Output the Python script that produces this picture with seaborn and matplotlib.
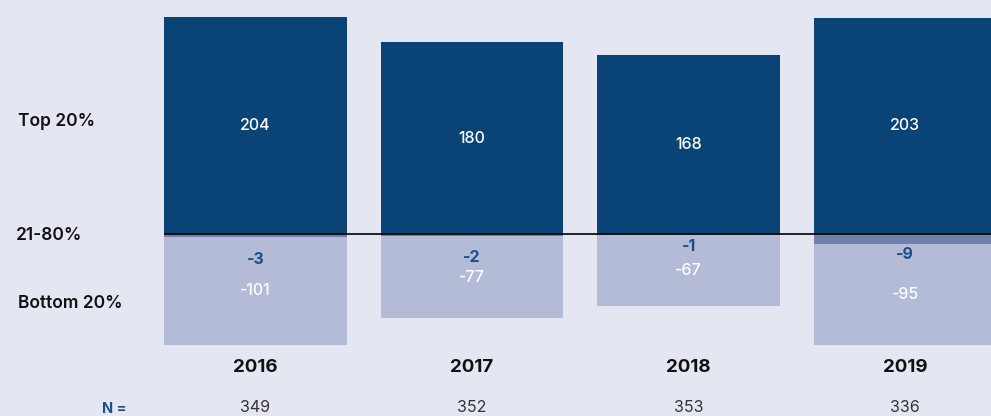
import numpy as np
import pandas as pd
import matplotlib
matplotlib.use("Agg")
import matplotlib.pyplot as plt
import seaborn as sns

# chart values
years = ["2016", "2017", "2018", "2019"]
top20 = [204, 180, 168, 203]
mid_band = [-3, -2, -1, -9]
bottom20 = [-101, -77, -67, -95]
n_counts = [349, 352, 353, 336]
row_labels = ["Top 20%", "21-80%", "Bottom 20%"]

BG = "#e4e7f1"
NAVY = "#0a4476"
MID = "#7080aa"
LIGHT = "#b4bbd6"
LABEL_BLUE = "#1d4f86"

sns.set_theme(style="white")
plt.rcParams["font.family"] = ["Inter", "DejaVu Sans"]

df = pd.DataFrame({
    "year": years,
    "top": top20,
    "mid": mid_band,
    "bottom": bottom20,
})
df["neg_total"] = df["mid"] + df["bottom"]

fig = plt.figure(figsize=(9.91, 4.16), dpi=100, facecolor=BG)
ax = fig.add_axes([0, 0, 1, 1])
ax.set_facecolor(BG)

bar_w = 0.845
for col, c in [("top", NAVY), ("neg_total", LIGHT), ("mid", MID)]:
    sns.barplot(data=df, x="year", y=col, color=c, width=bar_w,
                saturation=1, ax=ax, order=years, linewidth=0,
                edgecolor="none")

# scale: ~1.065 px per unit, zero line 234 px from top
ax.set_xlim(-1.18, 3.397)
ax.set_ylim(-(416 - 234) / 1.065, 234 / 1.065)
ax.set_axis_off()

left_edge = min(p.get_x() for p in ax.patches)
ax.hlines(0, left_edge, ax.get_xlim()[1], color="black", lw=1.2, zorder=5)

# vertical nudges for the small 21-80% labels (data units below the band)
mid_nudge = [-22, -21.5, -11.7, -15]

for i, yr in enumerate(years):
    t, m, b = top20[i], mid_band[i], bottom20[i]
    ax.text(i, t / 2, str(t), color="white", ha="center", va="center",
            fontsize=11.5, fontweight="medium")
    ax.text(i, m + b / 2, str(b), color="white", ha="center", va="center",
            fontsize=11.5, fontweight="medium")
    ax.text(i, m / 2 + mid_nudge[i], str(m), color=LABEL_BLUE, ha="center",
            va="center", fontsize=11.5, fontweight="bold")

trans = ax.get_xaxis_transform()
for i, yr in enumerate(years):
    ax.text(i, 49 / 416, yr, transform=trans, ha="center", va="center",
            fontsize=13.5, fontweight="bold", color="#111111")
    ax.text(i, 8 / 416, str(n_counts[i]), transform=trans, ha="center",
            va="center", fontsize=11.5, color="#333333")

label_pos = [(18, 122), (16, 236), (18, 304)]
for (px, py), lab in zip(label_pos, row_labels):
    fig.text(px / 991, 1 - py / 416, lab, ha="left", va="center",
             fontsize=12.5, fontweight="semibold", color="#111111")
fig.text(127 / 991, 1 - 409 / 416, "N =", ha="right", va="center",
         fontsize=10.5, fontweight="bold", color=LABEL_BLUE)

fig.savefig("out.png", dpi=100, facecolor=BG)
